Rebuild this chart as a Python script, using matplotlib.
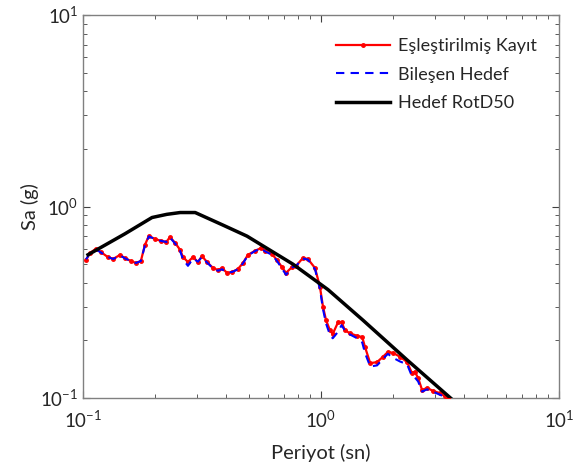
import numpy as np
import matplotlib
matplotlib.use("Agg")
import matplotlib.pyplot as plt
from matplotlib.ticker import LogLocator, NullFormatter

plt.rcParams['font.family'] = ['Lato', 'DejaVu Sans']
plt.rcParams['mathtext.fontset'] = 'custom'
plt.rcParams['mathtext.rm'] = 'Lato'
plt.rcParams['mathtext.it'] = 'Lato:italic'
plt.rcParams['mathtext.bf'] = 'Lato:bold'

# Periods (s) and spectral accelerations (g)
period_rec = [0.103, 0.107, 0.113, 0.119, 0.127, 0.134, 0.143, 0.150, 0.159, 0.167,
              0.175, 0.182, 0.189, 0.201, 0.213, 0.224, 0.232, 0.244, 0.256, 0.263,
              0.276, 0.290, 0.304, 0.316, 0.332, 0.352, 0.369, 0.384, 0.403, 0.423,
              0.448, 0.470, 0.493, 0.528, 0.560, 0.582, 0.622, 0.653, 0.685, 0.713,
              0.755, 0.785, 0.839, 0.881, 0.944, 0.99, 1.02, 1.05, 1.09, 1.12,
              1.18, 1.22, 1.26, 1.32, 1.42, 1.49, 1.53, 1.61, 1.72, 1.82,
              1.91, 2.01, 2.15, 2.30, 2.41, 2.48, 2.56, 2.66, 2.79, 2.95,
              3.16, 3.32, 3.42, 3.66]
sa_matched = [0.526, 0.572, 0.600, 0.578, 0.545, 0.532, 0.559, 0.538, 0.519, 0.507,
              0.519, 0.629, 0.702, 0.676, 0.661, 0.653, 0.693, 0.645, 0.593, 0.545,
              0.513, 0.545, 0.513, 0.551, 0.513, 0.477, 0.466, 0.477, 0.450, 0.455,
              0.472, 0.507, 0.559, 0.587, 0.607, 0.587, 0.565, 0.526, 0.483, 0.450,
              0.483, 0.489, 0.538, 0.532, 0.477, 0.380, 0.299, 0.255, 0.226, 0.216,
              0.249, 0.249, 0.226, 0.218, 0.211, 0.208, 0.185, 0.152, 0.154, 0.164,
              0.174, 0.172, 0.164, 0.154, 0.135, 0.137, 0.127, 0.110, 0.113, 0.109,
              0.106, 0.102, 0.100, 0.092]
sa_component = [0.530, 0.570, 0.598, 0.575, 0.545, 0.532, 0.556, 0.536, 0.519, 0.507,
                0.519, 0.625, 0.698, 0.676, 0.661, 0.653, 0.688, 0.640, 0.585, 0.530,
                0.490, 0.535, 0.515, 0.545, 0.510, 0.475, 0.462, 0.470, 0.452, 0.455,
                0.470, 0.505, 0.555, 0.585, 0.605, 0.583, 0.560, 0.520, 0.475, 0.440,
                0.480, 0.489, 0.535, 0.528, 0.470, 0.370, 0.290, 0.245, 0.214, 0.205,
                0.222, 0.240, 0.225, 0.215, 0.205, 0.195, 0.172, 0.146, 0.148, 0.160,
                0.170, 0.162, 0.155, 0.150, 0.130, 0.128, 0.122, 0.108, 0.111, 0.108,
                0.104, 0.101, 0.099, 0.090]

period_target = [0.105, 0.150, 0.195, 0.225, 0.256, 0.296, 0.387, 0.489, 0.762, 1.07,
                 1.50, 2.30, 3.50, 5.00]
sa_target = [0.56, 0.72, 0.876, 0.91, 0.93, 0.93, 0.80, 0.70, 0.50, 0.368,
             0.255, 0.158, 0.100, 0.068]

fig = plt.figure(figsize=(5.81, 4.68), dpi=100)
ax = fig.add_axes([83/581, 70/468, 476/581, 383/468])

ax.plot(period_rec, sa_matched, color='red', lw=1.6, marker='.', ms=5,
        label='Eşleştirilmiş Kayıt', zorder=3)
ax.plot(period_rec, sa_component, color='blue', lw=1.5, ls=(0, (4, 3)),
        label='Bileşen Hedef', zorder=4)
ax.plot(period_target, sa_target, color='black', lw=2.5,
        label='Hedef RotD50', zorder=5)

ax.set_xscale('log')
ax.set_yscale('log')
ax.set_xlim(0.1, 10)
ax.set_ylim(0.1, 10)

for a in (ax.xaxis, ax.yaxis):
    a.set_major_locator(LogLocator(base=10, numticks=10))
    a.set_minor_locator(LogLocator(base=10, subs=np.arange(2, 10), numticks=10))
    a.set_minor_formatter(NullFormatter())

ax.tick_params(which='both', direction='in', top=True, right=True,
               colors='#404040', labelcolor='#262626', labelsize=13.5)
ax.tick_params(which='major', length=5, width=0.8)
ax.tick_params(which='minor', length=3, width=0.6)
ax.tick_params(axis='x', pad=8)
for s in ax.spines.values():
    s.set_color('#808080')
    s.set_linewidth(1.0)

ax.set_xlabel('Periyot (sn)', fontsize=14.5, color='#262626', labelpad=10)
ax.set_ylabel('Sa (g)', fontsize=14.5, color='#262626', labelpad=1)

leg = ax.legend(loc='upper right', bbox_to_anchor=(0.9685, 0.958),
                frameon=False, fontsize=13,
                handlelength=3.0, handletextpad=0.45, labelspacing=0.68,
                borderaxespad=0.0, numpoints=1)
for t in leg.get_texts():
    t.set_color('#262626')

fig.savefig('out.png', dpi=100)
